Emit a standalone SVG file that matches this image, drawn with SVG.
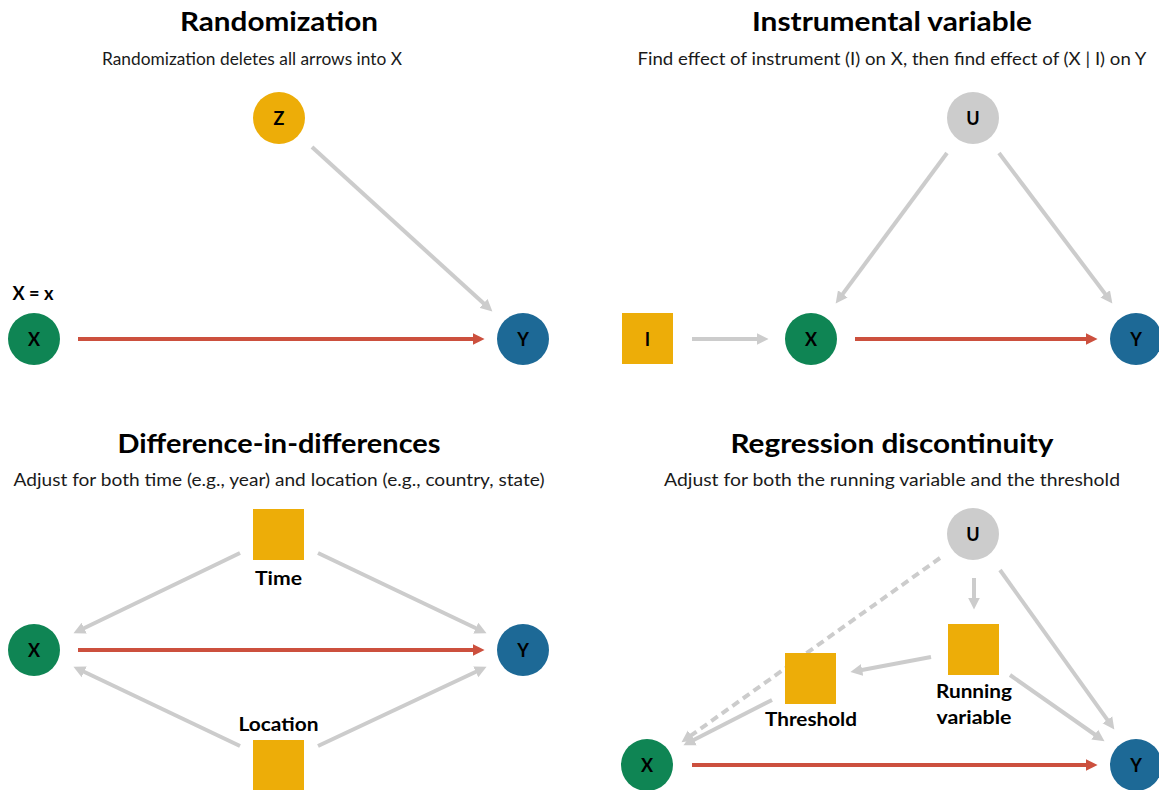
<svg xmlns="http://www.w3.org/2000/svg" width="1159" height="790" viewBox="0 0 1159 790">
<defs>
<style>
.title{font-family:Lato,"Open Sans","Liberation Sans",sans-serif;font-weight:700;font-size:27px;fill:#000;text-anchor:middle}
.sub{font-family:Lato,"Open Sans","Liberation Sans",sans-serif;font-weight:400;font-size:17.5px;fill:#1a1a1a;text-anchor:middle}
.nl{font-family:Lato,"Open Sans","Liberation Sans",sans-serif;font-weight:700;font-size:18px;fill:#000;text-anchor:middle}
.lab{font-family:Lato,"Open Sans","Liberation Sans",sans-serif;font-weight:700;font-size:19px;fill:#000;text-anchor:middle}
.g{stroke:#cccccc;stroke-width:4;fill:none;marker-end:url(#ag)}
.r{stroke:#cc503e;stroke-width:4;fill:none;marker-end:url(#ar)}
.d{stroke-dasharray:8 5}
.cx{fill:#0f8554}.cy{fill:#1d6996}.cz{fill:#edad08}.cu{fill:#cccccc}
</style>
<marker id="ag" markerUnits="userSpaceOnUse" markerWidth="13" markerHeight="13" refX="4" refY="6" orient="auto" viewBox="0 0 12 12"><path d="M0,0.5 L11,6 L0,11.5 Z" fill="#cccccc"/></marker>
<marker id="ar" markerUnits="userSpaceOnUse" markerWidth="13" markerHeight="13" refX="4" refY="6" orient="auto" viewBox="0 0 12 12"><path d="M0,0.5 L11,6 L0,11.5 Z" fill="#cc503e"/></marker>
</defs>
<rect width="1159" height="790" fill="#fff"/>

<g id="titles">
<text class="title" x="279" y="31" textLength="198" lengthAdjust="spacingAndGlyphs">Randomization</text>
<text class="sub" x="252" y="65" textLength="300" lengthAdjust="spacingAndGlyphs">Randomization deletes all arrows into X</text>
<text class="title" x="892" y="31" textLength="280" lengthAdjust="spacingAndGlyphs">Instrumental variable</text>
<text class="sub" x="892" y="65" textLength="509" lengthAdjust="spacingAndGlyphs">Find effect of instrument (I) on X, then find effect of (X | I) on Y</text>
<text class="title" x="279" y="453" textLength="323" lengthAdjust="spacingAndGlyphs">Difference-in-differences</text>
<text class="sub" x="279" y="486" textLength="531" lengthAdjust="spacingAndGlyphs">Adjust for both time (e.g., year) and location (e.g., country, state)</text>
<text class="title" x="892" y="453" textLength="323" lengthAdjust="spacingAndGlyphs">Regression discontinuity</text>
<text class="sub" x="892" y="486" textLength="456" lengthAdjust="spacingAndGlyphs">Adjust for both the running variable and the threshold</text>
</g>

<g id="connectors">
<line class="g" x1="312" y1="147" x2="486.8" y2="306.3"/>
<line class="r" x1="78" y1="339" x2="477" y2="339"/>
<line class="g" x1="692" y1="339" x2="761" y2="339"/>
<line class="r" x1="855" y1="339" x2="1090" y2="339"/>
<line class="g" x1="947" y1="153" x2="840.2" y2="297.4"/>
<line class="g" x1="999" y1="153" x2="1107.8" y2="297.4"/>
<line class="g" x1="240" y1="553" x2="80.3" y2="630"/>
<line class="g" x1="318" y1="553" x2="479.7" y2="630"/>
<line class="g" x1="240" y1="746" x2="80.3" y2="670"/>
<line class="g" x1="318" y1="746" x2="479.7" y2="670"/>
<line class="r" x1="78" y1="650" x2="477" y2="650"/>
<line class="g d" x1="940" y1="558" x2="687.7" y2="737.9"/>
<line class="g" x1="974" y1="578" x2="974" y2="602"/>
<line class="g" x1="1000" y1="570" x2="1109.9" y2="723.3"/>
<line class="g" x1="931" y1="657" x2="857.9" y2="670.7"/>
<line class="g" x1="1010" y1="675" x2="1098.3" y2="737"/>
<line class="g" x1="772" y1="700" x2="690.2" y2="741.8"/>
<line class="r" x1="692" y1="765" x2="1090" y2="765"/>
</g>

<g id="p1-z"><circle class="cz" cx="279" cy="118" r="26"/><text class="nl" x="279" y="124.5">Z</text></g>
<g id="p1-x"><circle class="cx" cx="34" cy="339" r="26"/><text class="nl" x="34" y="345.5">X</text><text class="lab" x="33" y="300" font-size="18" textLength="41" lengthAdjust="spacingAndGlyphs">X = x</text></g>
<g id="p1-y"><circle class="cy" cx="523" cy="339" r="26"/><text class="nl" x="523" y="345.5">Y</text></g>

<g id="p2-u"><circle class="cu" cx="973" cy="118" r="26"/><text class="nl" x="973" y="124.5">U</text></g>
<g id="p2-i"><rect class="cz" x="622" y="313" width="51" height="51"/><text class="nl" x="647.5" y="345.5">I</text></g>
<g id="p2-x"><circle class="cx" cx="811" cy="339" r="26"/><text class="nl" x="811" y="345.5">X</text></g>
<g id="p2-y"><circle class="cy" cx="1136" cy="339" r="26"/><text class="nl" x="1136" y="345.5">Y</text></g>

<g id="p3-time"><rect class="cz" x="253" y="509" width="51" height="51"/><text class="lab" x="278.5" y="585" textLength="47" lengthAdjust="spacingAndGlyphs">Time</text></g>
<g id="p3-location"><rect class="cz" x="253" y="740" width="51" height="51"/><text class="lab" x="278.5" y="731" textLength="80" lengthAdjust="spacingAndGlyphs">Location</text></g>
<g id="p3-x"><circle class="cx" cx="34" cy="650" r="26"/><text class="nl" x="34" y="656.5">X</text></g>
<g id="p3-y"><circle class="cy" cx="523" cy="650" r="26"/><text class="nl" x="523" y="656.5">Y</text></g>

<g id="p4-u"><circle class="cu" cx="973" cy="534" r="26"/><text class="nl" x="973" y="540.5">U</text></g>
<g id="p4-running"><rect class="cz" x="948" y="624" width="51" height="51"/><text class="lab" x="974" y="698" textLength="76" lengthAdjust="spacingAndGlyphs">Running</text><text class="lab" x="974" y="724" textLength="75" lengthAdjust="spacingAndGlyphs">variable</text></g>
<g id="p4-threshold"><rect class="cz" x="785" y="653" width="51" height="51"/><text class="lab" x="811" y="726" textLength="92" lengthAdjust="spacingAndGlyphs">Threshold</text></g>
<g id="p4-x"><circle class="cx" cx="647" cy="765" r="26"/><text class="nl" x="647" y="771.5">X</text></g>
<g id="p4-y"><circle class="cy" cx="1136" cy="765" r="26"/><text class="nl" x="1136" y="771.5">Y</text></g>
</svg>
